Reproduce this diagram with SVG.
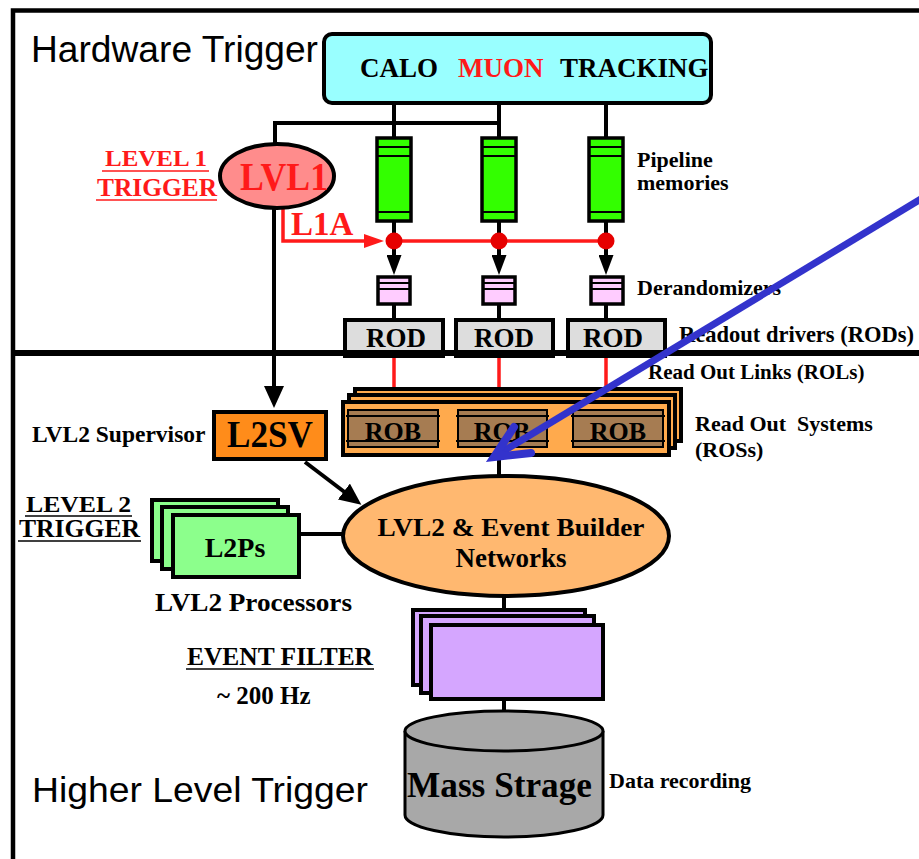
<svg xmlns="http://www.w3.org/2000/svg" width="919" height="859" viewBox="0 0 919 859">
<style>
.t{font-family:"Liberation Serif","Times New Roman",serif;font-weight:bold;fill:#000}
.s{font-family:"Liberation Sans",Arial,sans-serif;fill:#000}
.r{fill:#FF1A1A}
.frame{stroke:#000;fill:none}
.k{stroke:#000;stroke-width:4;fill:none}
.red{stroke:#FF1A1A;stroke-width:3.5;fill:none}
.pipe{fill:#33FF00;stroke:#000;stroke-width:3.5}
.der{fill:#FFCCFF;stroke:#000;stroke-width:3.5}
.rod{fill:#DDDDDD;stroke:#000;stroke-width:4}
.ros{fill:#FFAA4D;stroke:#000;stroke-width:4}
.rob{fill:#A67C52;stroke:#000;stroke-width:2}
.inl{stroke:#000;stroke-width:2}
.l2p{fill:#8CFF8C;stroke:#000;stroke-width:4}
.ef{fill:#D5A6FF;stroke:#000;stroke-width:4}
</style>
<defs>
<marker id="ak" markerUnits="userSpaceOnUse" viewBox="0 0 22 20" refX="14" refY="10" markerWidth="22" markerHeight="20" orient="auto"><path d="M0,0 L22,10 L0,20 z" fill="#000"/></marker>
<marker id="aks" markerUnits="userSpaceOnUse" viewBox="0 0 20 15" refX="12" refY="7.5" markerWidth="20" markerHeight="15" orient="auto"><path d="M0,0 L20,7.5 L0,15 z" fill="#000"/></marker>
<marker id="ar" markerUnits="userSpaceOnUse" viewBox="0 0 20 14" refX="12" refY="7" markerWidth="20" markerHeight="14" orient="auto"><path d="M0,0 L20,7 L0,14 z" fill="#FF1A1A"/></marker>
</defs>

<g id="frame">
<path class="frame" stroke-width="4.5" d="M919,10.5 H13 V859"/>
</g>

<g id="titles">
<text class="s" x="31" y="62" font-size="36" textLength="287" lengthAdjust="spacingAndGlyphs">Hardware Trigger</text>
<text class="s" x="32" y="802" font-size="35" textLength="336" lengthAdjust="spacingAndGlyphs">Higher Level Trigger</text>
</g>

<g id="connectors">
<path class="k" d="M394,103 V139 M499,103 V139 M606,103 V139 M275,143 V123 H499"/>
<path class="k" d="M394,221 V267" marker-end="url(#aks)"/>
<path class="k" d="M499,221 V267" marker-end="url(#aks)"/>
<path class="k" d="M606,221 V267" marker-end="url(#aks)"/>
<path class="k" d="M394,305 V320 M499,305 V320 M606,305 V320"/>
<path class="k" d="M274,209 V400" marker-end="url(#ak)"/>
<path class="red" d="M283,209 V241 H376" marker-end="url(#ar)"/>
<path class="red" d="M386,241 H606"/>
<path class="red" d="M394,353 V409 M499,353 V409 M606,353 V409"/>
<path class="k" d="M499,457 V476"/>
<path class="k" d="M305,462 L355,500" marker-end="url(#ak)"/>
<path class="k" d="M300,534 H343"/>
<path class="k" d="M504,597 V610 M504,700 V712"/>
<g fill="#E60000"><circle cx="394" cy="241" r="8.5"/><circle cx="499" cy="241" r="8.5"/><circle cx="606" cy="241" r="8.5"/></g>
</g>

<g id="detectors">
<rect x="324" y="34" width="387" height="69" rx="8" fill="#99FFFF" stroke="#000" stroke-width="4"/>
<text class="t" x="360" y="77" font-size="27">CALO</text>
<text class="t r" x="458" y="77" font-size="27">MUON</text>
<text class="t" x="560" y="77" font-size="27">TRACKING</text>
</g>

<g id="lvl1">
<ellipse cx="277" cy="176" rx="57" ry="32" fill="#FF8C8C" stroke="#000" stroke-width="4"/>
<text class="t r" x="284" y="190" font-size="40" text-anchor="middle" textLength="88" lengthAdjust="spacingAndGlyphs">LVL1</text>
</g>
<g id="lvl1-label">
<text class="t r" x="105" y="166" font-size="24" textLength="102" lengthAdjust="spacingAndGlyphs">LEVEL 1</text>
<path d="M102,171 H209" stroke="#FF1A1A" stroke-width="1.5"/>
<text class="t r" x="97" y="196" font-size="25" textLength="120" lengthAdjust="spacingAndGlyphs">TRIGGER</text>
<path d="M96,200 H217" stroke="#FF1A1A" stroke-width="1.5"/>
<text class="t r" x="291" y="235" font-size="33">L1A</text>
</g>

<g id="pipelines">
<g><rect class="pipe" x="377" y="138" width="34" height="83"/><path class="inl" d="M377,147 H411 M377,156 H411 M377,212 H411"/></g>
<g><rect class="pipe" x="482" y="138" width="34" height="83"/><path class="inl" d="M482,147 H516 M482,156 H516 M482,212 H516"/></g>
<g><rect class="pipe" x="589" y="138" width="34" height="83"/><path class="inl" d="M589,147 H623 M589,156 H623 M589,212 H623"/></g>
<text class="t" x="637" y="167" font-size="22">Pipeline</text>
<text class="t" x="637" y="190" font-size="22">memories</text>
</g>

<g id="derandomizers">
<g><rect class="der" x="378" y="277" width="32" height="27"/><path class="inl" d="M378,283 H410 M378,289 H410"/></g>
<g><rect class="der" x="483" y="277" width="32" height="27"/><path class="inl" d="M483,283 H515 M483,289 H515"/></g>
<g><rect class="der" x="591" y="277" width="32" height="27"/><path class="inl" d="M591,283 H623 M591,289 H623"/></g>
<text class="t" x="637" y="295" font-size="22">Derandomizers</text>
</g>

<g id="rods">
<rect class="rod" x="345" y="320" width="98" height="36"/>
<rect class="rod" x="456" y="320" width="97" height="36"/>
<rect class="rod" x="568" y="320" width="97" height="36"/>
<text class="t" x="396" y="347" font-size="27" text-anchor="middle">ROD</text>
<text class="t" x="504" y="347" font-size="27" text-anchor="middle">ROD</text>
<text class="t" x="613" y="347" font-size="27" text-anchor="middle">ROD</text>
<text class="t" x="679" y="342" font-size="22.5">Readout drivers (RODs)</text>
</g>

<g id="divider">
<path class="frame" stroke-width="6" d="M13,353 H919"/>
</g>

<g id="ros">
<rect class="ros" x="355" y="389" width="326" height="52"/>
<rect class="ros" x="349" y="395" width="326" height="53"/>
<rect class="ros" x="343" y="402" width="326" height="53"/>
<g><rect class="rob" x="348" y="410" width="90" height="37"/><path class="inl" d="M346,416 H440 M346,441 H440" stroke-width="1.5"/><text class="t" x="393" y="440" font-size="26" text-anchor="middle">ROB</text></g>
<g><rect class="rob" x="458" y="410" width="89" height="37"/><path class="inl" d="M456,416 H549 M456,441 H549" stroke-width="1.5"/><text class="t" x="502" y="440" font-size="26" text-anchor="middle">ROB</text></g>
<g><rect class="rob" x="573" y="410" width="90" height="37"/><path class="inl" d="M571,416 H665 M571,441 H665" stroke-width="1.5"/><text class="t" x="618" y="440" font-size="26" text-anchor="middle">ROB</text></g>
<text class="t" x="648" y="379" font-size="21">Read Out Links (ROLs)</text>
<text class="t" x="695" y="431" font-size="22" xml:space="preserve" style="white-space:pre">Read Out  Systems</text>
<text class="t" x="695" y="457" font-size="22">(ROSs)</text>
</g>

<g id="l2sv">
<rect x="214" y="412" width="112" height="47" fill="#FF8C1A" stroke="#000" stroke-width="4"/>
<text class="t" x="270" y="447" font-size="37" text-anchor="middle" textLength="86" lengthAdjust="spacingAndGlyphs">L2SV</text>
<text class="t" x="32" y="442" font-size="23.5">LVL2 Supervisor</text>
</g>

<g id="l2ps">
<rect class="l2p" x="152" y="500" width="126" height="61"/>
<rect class="l2p" x="162" y="507" width="126" height="62"/>
<rect class="l2p" x="173" y="515" width="126" height="62"/>
<text class="t" x="235" y="557" font-size="28" text-anchor="middle">L2Ps</text>
<text class="t" x="26" y="512" font-size="24" textLength="105" lengthAdjust="spacingAndGlyphs">LEVEL 2</text>
<path d="M25,516 H132" stroke="#000" stroke-width="1.5"/>
<text class="t" x="19" y="537" font-size="25" textLength="121" lengthAdjust="spacingAndGlyphs">TRIGGER</text>
<path d="M18,541 H141" stroke="#000" stroke-width="1.5"/>
<text class="t" x="155" y="611" font-size="26" textLength="197" lengthAdjust="spacingAndGlyphs">LVL2 Processors</text>
</g>

<g id="network">
<ellipse cx="506" cy="536" rx="163" ry="60" fill="#FFB870" stroke="#000" stroke-width="4"/>
<text class="t" x="511" y="536" font-size="25" text-anchor="middle" textLength="267" lengthAdjust="spacingAndGlyphs">LVL2 &amp; Event Builder</text>
<text class="t" x="511" y="567" font-size="27" text-anchor="middle">Networks</text>
</g>

<g id="eventfilter">
<rect class="ef" x="413" y="610" width="172" height="75"/>
<rect class="ef" x="421" y="616" width="173" height="77"/>
<rect class="ef" x="431" y="625" width="172" height="74"/>
<text class="t" x="187" y="665" font-size="25" textLength="186" lengthAdjust="spacingAndGlyphs">EVENT FILTER</text>
<path d="M186,669 H374" stroke="#000" stroke-width="1.5"/>
<text class="t" x="217" y="704" font-size="25">~ 200 Hz</text>
</g>

<g id="storage">
<path d="M405,731 V815 A99,22 0 0 0 603,815 V731" fill="#A8A8A8" stroke="#000" stroke-width="3"/>
<ellipse cx="504" cy="731" rx="99" ry="20" fill="#A8A8A8" stroke="#000" stroke-width="3"/>
<text class="t" x="407" y="797" font-size="35" textLength="185" lengthAdjust="spacingAndGlyphs">Mass Strage</text>
<text class="t" x="609" y="788" font-size="22">Data recording</text>
</g>

<g id="pointer">
<path d="M921,199 L497,455" stroke="#3333CC" stroke-width="7" fill="none"/>
<path d="M514,427 L494,457 L531,453" stroke="#3333CC" stroke-width="8" fill="none" stroke-linejoin="miter" stroke-linecap="round"/>
</g>
</svg>
